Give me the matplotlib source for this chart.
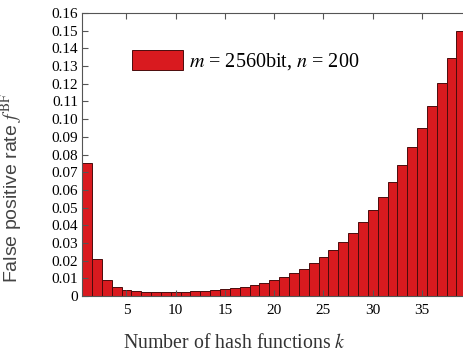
import numpy as np
import matplotlib
matplotlib.use("Agg")
import matplotlib.pyplot as plt

plt.rcParams['font.family'] = ['Liberation Serif', 'DejaVu Serif']
plt.rcParams['mathtext.fontset'] = 'stix'

# number of hash functions k and false positive rate
k = list(range(1, 40))
fpr = [0.0752, 0.0209, 0.0091, 0.0052, 0.0035, 0.0027, 0.0024, 0.0022, 0.0021, 0.0022,
       0.0023, 0.0026, 0.0029, 0.0033, 0.0038, 0.0045, 0.0053, 0.0063, 0.0076, 0.0091,
       0.0109, 0.0129, 0.0155, 0.0184, 0.0219, 0.0259, 0.0305, 0.0357, 0.0417, 0.0484,
       0.0560, 0.0644, 0.0739, 0.0842, 0.0952, 0.1074, 0.1204, 0.1346, 0.1500]
yticks = [0, 0.01, 0.02, 0.03, 0.04, 0.05, 0.06, 0.07, 0.08, 0.09, 0.10,
          0.11, 0.12, 0.13, 0.14, 0.15, 0.16]
ylabels = ["0"] + ["%.2f" % v for v in yticks[1:]]
xticks = [5, 10, 15, 20, 25, 30, 35]

fig = plt.figure(figsize=(4.64, 3.54), dpi=100)
ax = fig.add_axes([0.177, 0.164, 0.828, 0.799])
ax.bar(k, fpr, width=1.0, color='#d91a1f', edgecolor='#4a0c0c', linewidth=0.7,
       label="$m$ = 2560bit, $n$ = 200")
ax.set_xlim(0.5, 39.5)
ax.set_ylim(0, 0.16)
ax.set_yticks(yticks)
ax.set_yticklabels(ylabels)
ax.set_xticks(xticks)
ax.tick_params(direction='in', top=True, right=False, labelsize=11, length=4,
               color='#555555', pad=3)
ax.tick_params(axis='x', pad=6)
for s in ax.spines.values():
    s.set_color('#555555')
ax.spines['right'].set_visible(False)

ax.set_xlabel("Number of hash functions $k$", fontsize=14.3, color='#333333')
ax.xaxis.set_label_coords(0.396, -0.135)
ax.set_ylabel("False positive rate $f^{\\rm BF}$", fontsize=14, color='#444444',
              family=['Liberation Sans', 'DejaVu Sans'])
ax.yaxis.set_label_coords(-0.148, 0.38)

ax.legend(loc='center left', bbox_to_anchor=(0.13, 0.83), frameon=False, fontsize=14.5,
          handlelength=2.55, handleheight=1.1, handletextpad=0.3,
          borderpad=0, borderaxespad=0)
fig.savefig("out.png", dpi=100)
